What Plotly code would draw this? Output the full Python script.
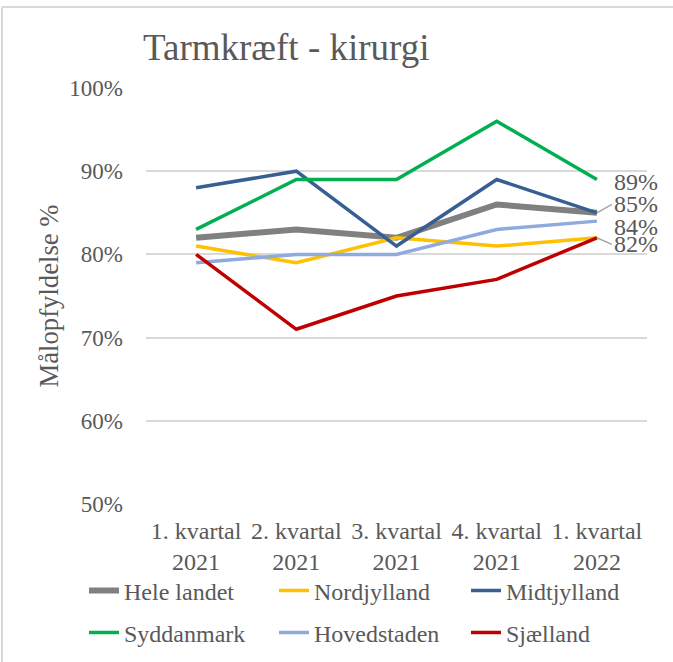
import plotly.graph_objects as go

categories = ["1. kvartal<br>2021", "2. kvartal<br>2021", "3. kvartal<br>2021",
              "4. kvartal<br>2021", "1. kvartal<br>2022"]

hele_landet = [0.82, 0.83, 0.82, 0.86, 0.85]
nordjylland = [0.81, 0.79, 0.82, 0.81, 0.82]
midtjylland = [0.88, 0.90, 0.81, 0.89, 0.85]
syddanmark = [0.83, 0.89, 0.89, 0.96, 0.89]
hovedstaden = [0.79, 0.80, 0.80, 0.83, 0.84]
sjaelland = [0.80, 0.71, 0.75, 0.77, 0.82]

y_ticks = [0.5, 0.6, 0.7, 0.8, 0.9, 1.0]
y_tick_labels = ["50%", "60%", "70%", "80%", "90%", "100%"]

FONT = "Liberation Serif, Times New Roman, serif"
GREY = "#595959"
W, H = 673, 662

# name, values, colour, width, legend id, legend position (left px, centre y px)
series = [
    ("Hele landet", hele_landet, "#808080", 6, "legend", (84, 591)),
    ("Nordjylland", nordjylland, "#FFC000", 3.5, "legend2", (274, 591)),
    ("Midtjylland", midtjylland, "#375F94", 3.5, "legend3", (466, 591)),
    ("Syddanmark", syddanmark, "#00B050", 3.5, "legend4", (84, 633)),
    ("Hovedstaden", hovedstaden, "#8FAADC", 3.5, "legend5", (274, 633)),
    ("Sjælland", sjaelland, "#C00000", 3.5, "legend6", (466, 633)),
]

fig = go.Figure()
legends = {}
for name, vals, color, w, lg, (lx, ly) in series:
    fig.add_trace(go.Scatter(
        x=categories, y=vals, name=name, mode="lines",
        line=dict(color=color, width=w), legend=lg,
    ))
    legends[lg] = dict(orientation="h", xref="container", yref="container",
                       x=lx / W, y=1 - ly / H, xanchor="left", yanchor="middle",
                       font=dict(family=FONT, size=24, color=GREY),
                       bgcolor="rgba(0,0,0,0)", borderwidth=0)

# end-of-line data labels: value, pixel offset down, leader line
last = categories[-1]
end_labels = [
    (syddanmark[-1], 2, False),
    (hele_landet[-1], -8.5, True),
    (hovedstaden[-1], 6, False),
    (nordjylland[-1], 6.6, True),
]
for val, dy, arrow in end_labels:
    if arrow:
        fig.add_annotation(
            x=last, y=val, text=f"{round(val*100)}%", xref="x", yref="y",
            showarrow=True, arrowhead=0, arrowcolor="#A6A6A6", arrowwidth=1.5,
            ax=15, ay=dy, axref="pixel", ayref="pixel",
            xanchor="left", yanchor="middle", standoff=0,
            font=dict(family=FONT, size=24, color=GREY),
        )
    else:
        fig.add_annotation(
            x=last, y=val, text=f"{round(val*100)}%", xref="x", yref="y",
            showarrow=False, xanchor="left", yanchor="middle",
            xshift=15, yshift=-dy,
            font=dict(family=FONT, size=24, color=GREY),
        )

fig.update_layout(
    width=W, height=H,
    margin=dict(l=146, r=26, t=88, b=158, autoexpand=False),
    paper_bgcolor="white", plot_bgcolor="white",
    font=dict(family=FONT, color=GREY, size=24),
    title=dict(text="Tarmkræft - kirurgi", x=143 / W, xref="container", xanchor="left",
               y=1 - 47 / H, yref="container", yanchor="middle",
               font=dict(family=FONT, size=37, color=GREY)),
    xaxis=dict(range=[-0.5, 4.5], showgrid=False, zeroline=False, showline=False,
               ticks="", tickfont=dict(size=24, color=GREY), ticklabelstandoff=10,
               automargin=False),
    yaxis=dict(range=[0.5, 1.0], tickvals=y_ticks, ticktext=y_tick_labels,
               showgrid=True, gridcolor="#D9D9D9", gridwidth=1.5, zeroline=False,
               showline=False, ticks="", tickfont=dict(size=23, color=GREY),
               ticklabelstandoff=22, automargin=False,
               title=dict(text="Målopfyldelse %", font=dict(size=26.7, color=GREY), standoff=2)),
    showlegend=True,
    **legends,
)

# chart outer border (top and left edges visible in reference)
fig.add_shape(type="line", xref="paper", yref="paper",
              x0=(2 - 146) / 501, x1=(673 - 146) / 501, y0=(504 - 7) / 416, y1=(504 - 7) / 416,
              line=dict(color="#D9D9D9", width=2))
fig.add_shape(type="line", xref="paper", yref="paper",
              x0=(2 - 146) / 501, x1=(2 - 146) / 501, y0=(504 - 7) / 416, y1=(504 - 662) / 416,
              line=dict(color="#D9D9D9", width=2))

fig.write_html("out.html", config={"displayModeBar": False},
               post_script="document.body.style.margin='0';")
